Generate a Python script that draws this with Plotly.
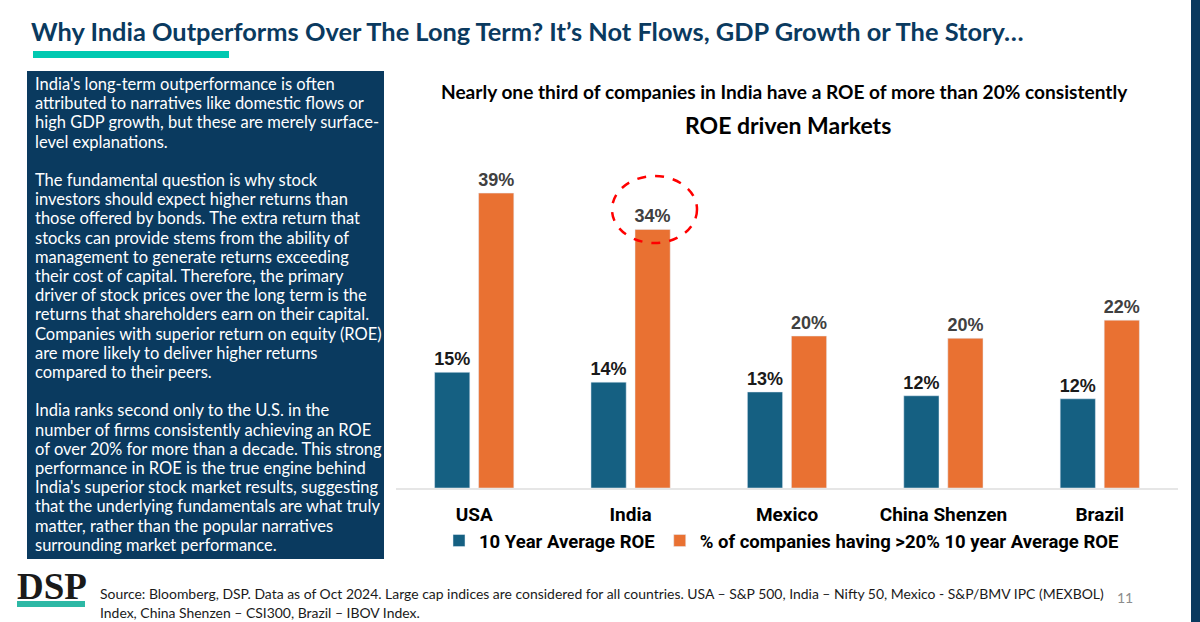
import plotly.graph_objects as go

# === DATA ===
countries = ["USA", "India", "Mexico", "China Shenzen", "Brazil"]
avg_roe = [15.3, 14.0, 12.7, 12.2, 11.8]
pct_companies = [39.0, 34.2, 20.1, 19.8, 22.2]
avg_roe_labels = ["15%", "14%", "13%", "12%", "12%"]
pct_companies_labels = ["39%", "34%", "20%", "20%", "22%"]

title = "Why India Outperforms Over The Long Term? It’s Not Flows, GDP Growth or The Story…"
subtitle = "Nearly one third of companies in India have a ROE of more than 20% consistently"
chart_title = "ROE driven Markets"
panel_lines = [
    "India's long-term outperformance is often",
    "attributed to narratives like domestic flows or",
    "high GDP growth, but these are merely surface-",
    "level explanations.",
    "",
    "The fundamental question is why stock",
    "investors should expect higher returns than",
    "those offered by bonds. The extra return that",
    "stocks can provide stems from the ability of",
    "management to generate returns exceeding",
    "their cost of capital. Therefore, the primary",
    "driver of stock prices over the long term is the",
    "returns that shareholders earn on their capital.",
    "Companies with superior return on equity (ROE)",
    "are more likely to deliver higher returns",
    "compared to their peers.",
    "",
    "India ranks second only to the U.S. in the",
    "number of firms consistently achieving an ROE",
    "of over 20% for more than a decade. This strong",
    "performance in ROE is the true engine behind",
    "India's superior stock market results, suggesting",
    "that the underlying fundamentals are what truly",
    "matter, rather than the popular narratives",
    "surrounding market performance.",
]
source_lines = [
    "Source: Bloomberg, DSP. Data as of Oct 2024. Large cap indices are considered for all countries. USA – S&P 500, India – Nifty 50, Mexico - S&P/BMV IPC (MEXBOL)",
    "Index, China Shenzen – CSI300, Brazil – IBOV Index.",
]

NAVY = "#0A3A5F"
BLUE = "#156082"
ORANGE = "#E97132"
TEAL = "#00C9B1"
W, H = 1200, 622


def px(x):
    return x / W


def py(y):
    return 1 - y / H


def label(x, y, text, size, color="#000000", family="Lato", anchor="left", bold=False):
    fig.add_annotation(
        x=px(x), y=py(y), xref="paper", yref="paper", text=f"<b>{text}</b>" if bold else text,
        showarrow=False, xanchor=anchor, yanchor="middle", align=anchor,
        font=dict(family=family, size=size, color=color),
    )


def box(x0, y0, x1, y1, color):
    fig.add_shape(
        type="rect", xref="paper", yref="paper", layer="below",
        x0=px(x0), x1=px(x1), y0=py(y0), y1=py(y1),
        fillcolor=color, line_width=0,
    )


fig = go.Figure()
fig.add_trace(go.Bar(
    x=countries, y=avg_roe, name="10 Year Average ROE", marker_color=BLUE,
    text=avg_roe_labels, textposition="outside", cliponaxis=False, constraintext="none",
    textfont=dict(family="Liberation Sans", size=18, color="#1A1A1A", weight=700),
))
fig.add_trace(go.Bar(
    x=countries, y=pct_companies, name="% of companies having >20% 10 year Average ROE", marker_color=ORANGE,
    text=pct_companies_labels, textposition="outside", cliponaxis=False, constraintext="none",
    textfont=dict(family="Liberation Sans", size=18, color="#404040", weight=700),
))

fig.update_layout(
    width=W, height=H, margin=dict(l=0, r=0, t=0, b=0),
    paper_bgcolor="white", plot_bgcolor="white",
    barmode="group", bargap=0.437, bargroupgap=0.2,
    legend=dict(
        orientation="h", x=px(439), y=py(541), xanchor="left", yanchor="middle",
        font=dict(family="Roboto", size=18.5, color="#000000", weight=700),
        itemwidth=30,
    ),
    xaxis=dict(
        domain=[px(396), px(1178)], showgrid=False, ticks="",
        showline=True, linecolor="#E6E6E6", linewidth=2, ticklabelstandoff=8,
        tickfont=dict(family="Roboto", size=19, color="#000000", weight=700),
    ),
    yaxis=dict(domain=[py(488), py(150)], range=[0, 44.7], visible=False),
)

# slide furniture
box(27, 71, 384, 559, NAVY)
box(33, 51, 229, 58, TEAL)
box(1191, 0, 1200, 622, NAVY)
box(17, 601, 85, 607, "#2DB8A5")

label(29, 31, title, 25.4, color=NAVY, bold=True)
label(784.5, 92, subtitle, 19.1, anchor="center", bold=True)
label(788, 125, chart_title, 23, anchor="center", bold=True)
for i, line in enumerate(panel_lines):
    if line:
        label(33, 84 + 19.2 * i, line, 16.5, color="white")
label(52, 586, "DSP", 37, color="#1A1A1A", family="Liberation Serif", anchor="center", bold=True)
for i, line in enumerate(source_lines):
    label(98, 593 + 19 * i, line, 13.95, color="#1A1A1A")
label(1125, 597, "11", 14, color="#8C8C8C", anchor="center")

# red circle around India value
fig.add_shape(
    type="circle", xref="paper", yref="paper",
    x0=px(612), x1=px(697), y0=py(243), y1=py(176),
    line=dict(color="#FF0000", width=2.5, dash="dash"),
)

fig.write_html("out.html", config={"displayModeBar": False}, post_script="document.body.style.margin='0';")
